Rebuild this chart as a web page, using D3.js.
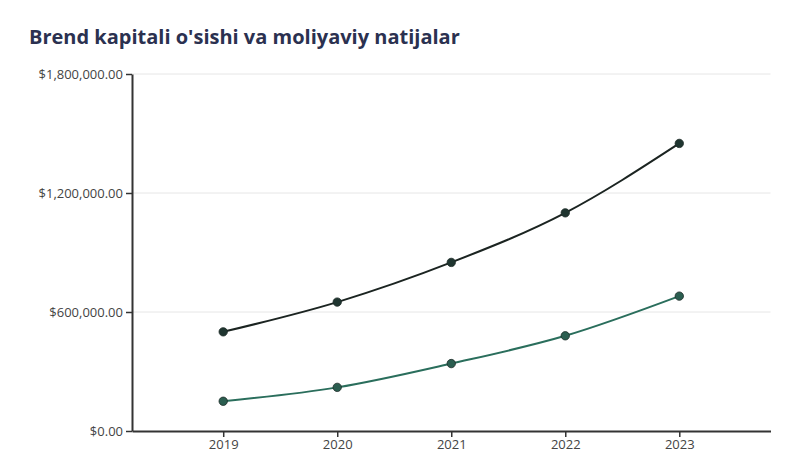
<!DOCTYPE html>
<html>
<head>
<meta charset="utf-8">
<script src="https://cdn.jsdelivr.net/npm/d3@7/dist/d3.min.js"></script>
<style>
  html, body { margin: 0; padding: 0; background: #fff; }
  svg { display: block; }
</style>
</head>
<body>
<svg id="chart" width="800" height="450"></svg>
<script>
const title = "Brend kapitali o'sishi va moliyaviy natijalar";
const years = ["2019", "2020", "2021", "2022", "2023"];
const brandEquity = [500000, 650000, 850000, 1100000, 1450000];
const financialResult = [150000, 220000, 340000, 480000, 680000];
const yTicks = [0, 600000, 1200000, 1800000];

const series = [
  { name: "brand", values: brandEquity, line: "#1b2421", marker: "#1f3530" },
  { name: "fin", values: financialResult, line: "#2a6e5c", marker: "#2b5e50" }
];

const svg = d3.select("#chart");
const plotLeft = 132, plotRight = 770.5, plotTop = 74, plotBottom = 431;

const x = d3.scalePoint().domain(years).range([plotLeft, plotRight]).padding(0.8);
const y = d3.scaleLinear().domain([0, 1800000]).range([plotBottom, plotTop]);

svg.append("text")
  .attr("x", 29).attr("y", 44)
  .attr("font-family", "Open Sans, sans-serif")
  .attr("font-weight", 700)
  .attr("font-size", 20)
  .attr("fill", "#2b3150")
  .text(title);

// gridlines
svg.append("g").selectAll("line")
  .data(yTicks.filter(d => d > 0))
  .join("line")
  .attr("x1", plotLeft).attr("x2", plotRight)
  .attr("y1", d => y(d)).attr("y2", d => y(d))
  .attr("stroke", "#e6e6e6").attr("stroke-width", 1);

const fmt = d3.format("$,.2f");

const yAxis = svg.append("g")
  .attr("transform", `translate(${plotLeft},0)`)
  .call(d3.axisLeft(y).tickValues(yTicks).tickFormat(fmt).tickSize(6).tickPadding(3).tickSizeOuter(0));
yAxis.select(".domain").attr("stroke", "#333").attr("stroke-width", 2);
yAxis.selectAll(".tick line").attr("stroke", "#333").attr("stroke-width", 1.5);
yAxis.selectAll("text").attr("font-family", "Open Sans, sans-serif").attr("font-size", 13).attr("fill", "#444");

const xAxis = svg.append("g")
  .attr("transform", `translate(0,${plotBottom})`)
  .call(d3.axisBottom(x).tickSize(6).tickPadding(3).tickSizeOuter(0));
xAxis.select(".domain").attr("stroke", "#333").attr("stroke-width", 2);
xAxis.selectAll(".tick line").attr("stroke", "#333").attr("stroke-width", 1.5);
xAxis.selectAll("text").attr("font-family", "Open Sans, sans-serif").attr("font-size", 13).attr("fill", "#444");

const line = d3.line()
  .x((d, i) => x(years[i]))
  .y(d => y(d))
  .curve(d3.curveMonotoneX);

series.forEach(s => {
  svg.append("path")
    .datum(s.values)
    .attr("d", line)
    .attr("fill", "none")
    .attr("stroke", s.line)
    .attr("stroke-width", 2);
  svg.append("g").selectAll("circle")
    .data(s.values)
    .join("circle")
    .attr("cx", (d, i) => x(years[i]))
    .attr("cy", d => y(d))
    .attr("r", 4.2)
    .attr("fill", s.marker)
    .attr("stroke", "#1d2b27")
    .attr("stroke-width", 0.8);
});
</script>
</body>
</html>
